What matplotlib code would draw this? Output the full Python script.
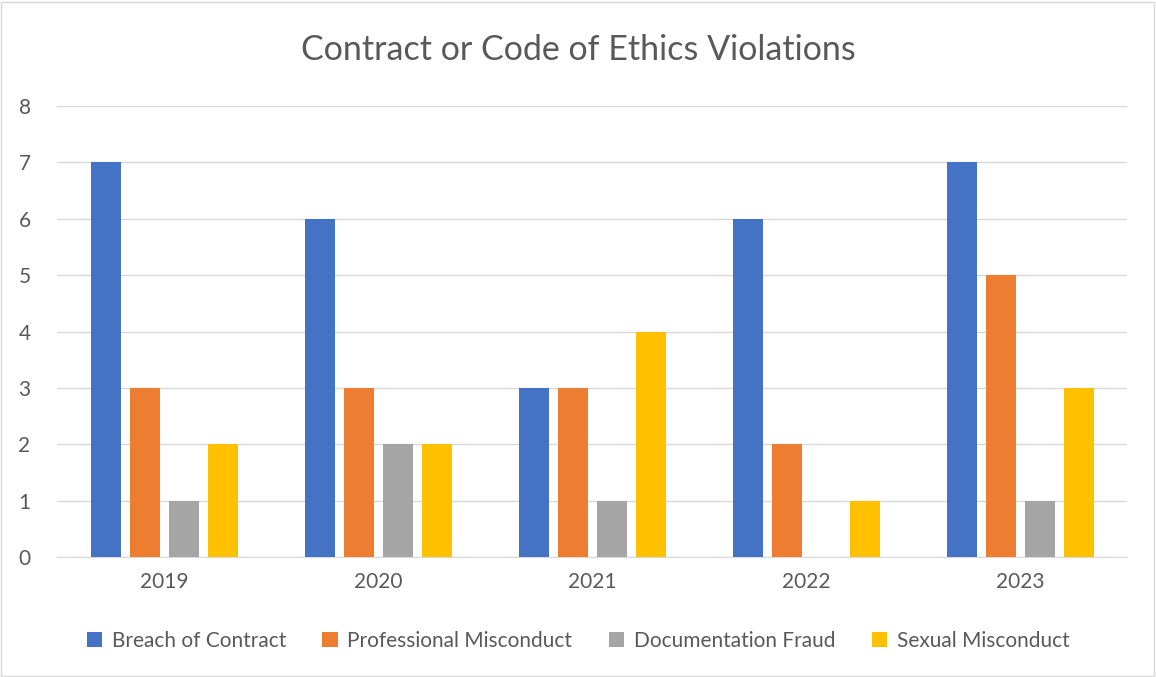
import matplotlib.pyplot as plt
from matplotlib.patches import Rectangle
import numpy as np

years = ["2019", "2020", "2021", "2022", "2023"]
series_names = ["Breach of Contract", "Professional Misconduct", "Documentation Fraud", "Sexual Misconduct"]
breach = [7, 6, 3, 6, 7]
professional = [3, 3, 3, 2, 5]
documentation = [1, 2, 1, 0, 1]
sexual = [2, 2, 4, 1, 3]
colors = ["#4472C4", "#ED7D31", "#A5A5A5", "#FFC000"]

plt.rcParams['font.family'] = ['Lato', 'DejaVu Sans']
txt = "#595959"

fig = plt.figure(figsize=(11.56, 6.77), dpi=100)
W, H = 1156, 677
ax = fig.add_axes([57 / W, (H - 557) / H, 1070 / W, 451 / H])

x = np.arange(len(years))
bw = 30 / 214
step = 39 / 214
for i, (vals, name) in enumerate(zip([breach, professional, documentation, sexual], series_names)):
    ax.bar(x + (i - 1.5) * step, vals, width=bw, color=colors[i], label=name, zorder=3)

ax.set_xlim(-0.5, len(years) - 0.5)
ax.set_ylim(0, 8)
ax.set_yticks(range(0, 9))
ax.set_xticks(x)
ax.set_xticklabels(years)
ax.grid(axis='y', color='#D9D9D9', linewidth=1, zorder=0)
for s in ['top', 'right', 'left']:
    ax.spines[s].set_visible(False)
ax.spines['bottom'].set_color('#D9D9D9')
ax.tick_params(axis='both', length=0, labelsize=15, colors=txt)
ax.tick_params(axis='y', pad=19)
ax.tick_params(axis='x', pad=11)

fig.text(0.5, (H - 50) / H, "Contract or Code of Ethics Violations", ha='center', va='center',
         fontsize=24.5, color=txt)

leg = fig.legend(loc='center', bbox_to_anchor=(0.5, (H - 641) / H), ncol=4, frameon=False,
                 fontsize=15, labelcolor=txt, handlelength=0.75, handleheight=0.75,
                 columnspacing=1.75, handletextpad=0.45)

fig.patches.append(Rectangle((1 / W, 1 / H), 1 - 3 / W, 1 - 3 / H, transform=fig.transFigure,
                             fill=False, edgecolor='#D9D9D9', linewidth=1))

fig.savefig("out.png", dpi=100)
